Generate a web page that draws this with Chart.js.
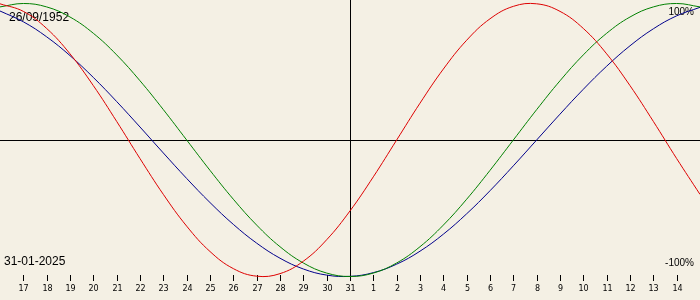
<!DOCTYPE html>
<html>
<head>
<meta charset="utf-8">
<script src="https://cdn.jsdelivr.net/npm/chart.js@4.4.1/dist/chart.umd.min.js"></script>
<style>
html,body{margin:0;padding:0;background:#f4f0e4;}
#wrap{width:700px;height:300px;position:relative;}
</style>
</head>
<body>
<div id="wrap"><canvas id="c" width="700" height="300"></canvas></div>
<script>
// Day labels (offsets -15 .. +15 around 31-01-2025)
const days = [16,17,18,19,20,21,22,23,24,25,26,27,28,29,30,31,1,2,3,4,5,6,7,8,9,10,11,12,13,14,15];
const physical = [0.9977,0.9423,0.8170,0.6311,0.3984,0.1362,-0.1362,-0.3984,-0.6311,-0.8170,-0.9423,-0.9977,-0.9791,-0.8879,-0.7308,-0.5196,-0.2698,0,0.2698,0.5196,0.7308,0.8879,0.9791,0.9977,0.9423,0.8170,0.6311,0.3984,0.1362,-0.1362,-0.3984];
const emotional = [0.9749,1,0.9749,0.9010,0.7818,0.6235,0.4339,0.2225,0,-0.2225,-0.4339,-0.6235,-0.7818,-0.9010,-0.9749,-1,-0.9749,-0.9010,-0.7818,-0.6235,-0.4339,-0.2225,0,0.2225,0.4339,0.6235,0.7818,0.9010,0.9749,1,0.9749];
const intellectual = [0.9450,0.8660,0.7557,0.6182,0.4582,0.2817,0.0951,-0.0951,-0.2817,-0.4582,-0.6182,-0.7557,-0.8660,-0.9450,-0.9898,-0.9989,-0.9718,-0.9096,-0.8146,-0.6901,-0.5406,-0.3717,-0.1893,0,0.1893,0.3717,0.5406,0.6901,0.8146,0.9096,0.9718];
const birthLabel = '26/09/1952';
const dateLabel = '31-01-2025';
const topLabel = '100%';
const bottomLabel = '-100%';

const overlay = {
  id: 'overlay',
  beforeDatasetsDraw(chart) {
    const ctx = chart.ctx, x = chart.scales.x, y = chart.scales.y;
    ctx.save();
    ctx.strokeStyle = '#000';
    ctx.lineWidth = 1;
    const y0 = Math.round(y.getPixelForValue(0)) + 0.5;
    ctx.beginPath(); ctx.moveTo(0, y0); ctx.lineTo(700, y0); ctx.stroke();
    const xc = Math.round(x.getPixelForValue(15)) + 0.5;
    ctx.beginPath(); ctx.moveTo(xc, 0); ctx.lineTo(xc, 281); ctx.stroke();
    // ticks
    ctx.font = '8px "DejaVu Sans"';
    ctx.fillStyle = '#000';
    ctx.textAlign = 'center';
    ctx.textBaseline = 'middle';
    for (let i = 1; i < days.length - 1; i++) {
      const px = Math.round(x.getPixelForValue(i)) + 0.5;
      ctx.beginPath(); ctx.moveTo(px, 275); ctx.lineTo(px, 281); ctx.stroke();
      ctx.fillText(String(days[i]), px, 289);
    }
    // corner labels
    ctx.font = '12px "Liberation Sans"';
    ctx.textAlign = 'left';
    ctx.fillText(birthLabel, 9, 18);
    ctx.fillText(dateLabel, 4, 262);
    ctx.font = '10px "Liberation Sans"';
    ctx.textAlign = 'right';
    ctx.fillText(topLabel, 694, 12);
    ctx.fillText(bottomLabel, 694, 263);
    ctx.restore();
  }
};

new Chart(document.getElementById('c'), {
  type: 'line',
  data: {
    labels: days,
    datasets: [
      {label: 'Physical', data: physical, borderColor: '#dd0000', borderWidth: 1, pointRadius: 0, tension: 0.4, fill: false},
      {label: 'Emotional', data: emotional, borderColor: '#008000', borderWidth: 1, pointRadius: 0, tension: 0.4, fill: false},
      {label: 'Intellectual', data: intellectual, borderColor: '#00008b', borderWidth: 1, pointRadius: 0, tension: 0.4, fill: false}
    ]
  },
  options: {
    responsive: false,
    animation: false,
    layout: {padding: 0},
    plugins: {legend: {display: false}, tooltip: {enabled: false}},
    scales: {
      x: {type: 'category', display: false, offset: false},
      y: {type: 'linear', display: false, min: -1.1722, max: 1.0256}
    }
  },
  plugins: [overlay]
});
</script>
</body>
</html>
